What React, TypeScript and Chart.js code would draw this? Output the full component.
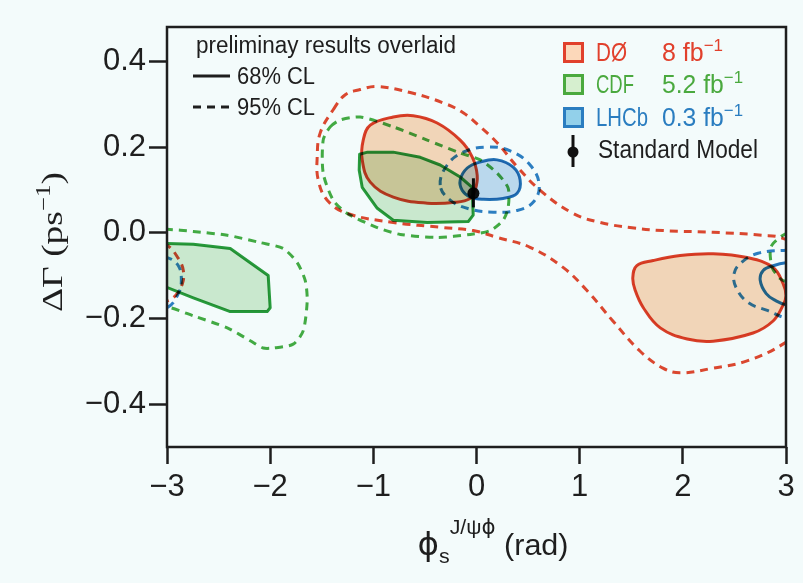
import React, { useEffect, useRef } from 'react';
import { Chart, registerables } from 'chart.js';

Chart.register(...registerables);

// ---------------- axes ----------------
const X_MIN = -3;
const X_MAX = 3;
const Y_MIN = -0.5;
const Y_MAX = 0.48;
const X_TICKS = [-3, -2, -1, 0, 1, 2, 3];
const X_TICK_LABELS = ['−3', '−2', '−1', '0', '1', '2', '3'];
const Y_TICKS = [-0.4, -0.2, 0, 0.2, 0.4];
const Y_TICK_LABELS = ['−0.4', '−0.2', '0.0', '0.2', '0.4'];

// ---------------- DØ 8 fb-1 ----------------
const D0_68_CENTRAL_X = [-1.098, -1.03, -0.807, -0.613, -0.381, -0.158, -0.042, 0.007, -0.013, -0.061, -0.206, -0.478, -0.807, -1.03, -1.108];
const D0_68_CENTRAL_Y = [0.216, 0.251, 0.27, 0.273, 0.256, 0.216, 0.177, 0.134, 0.099, 0.08, 0.071, 0.069, 0.083, 0.118, 0.17];
const D0_68_RIGHT_X = [1.515, 1.554, 1.713, 1.974, 2.294, 2.623, 2.875, 2.972, 3.0, 2.97, 2.875, 2.681, 2.294, 2.042, 1.781, 1.617, 1.539];
const D0_68_RIGHT_Y = [-0.105, -0.077, -0.065, -0.053, -0.049, -0.058, -0.081, -0.119, -0.147, -0.17, -0.206, -0.234, -0.253, -0.248, -0.222, -0.175, -0.135];
const D0_95_MAIN_X = [-1.389, -1.272, -1.127, -0.962, -0.642, -0.323, -0.129, 0.036, 0.2, 0.394, 0.617, 0.936, 1.197, 1.487, 1.807, 2.292, 2.776, 2.97, 3.15, 3.25, 3.15, 2.97, 2.622, 2.292, 1.972, 1.807, 1.584, 1.322, 1.071, 0.839, 0.519, 0.2, -0.032, -0.323, -0.807, -1.253, -1.447, -1.534, -1.544, -1.515];
const D0_95_MAIN_Y = [0.287, 0.322, 0.334, 0.341, 0.327, 0.303, 0.28, 0.247, 0.21, 0.154, 0.099, 0.045, 0.024, 0.012, 0.005, 0.001, -0.006, -0.013, -0.04, -0.13, -0.22, -0.26, -0.299, -0.316, -0.327, -0.316, -0.276, -0.206, -0.135, -0.081, -0.034, -0.011, 0.005, 0.012, 0.024, 0.045, 0.076, 0.123, 0.177, 0.233];
const D0_95_LEFT_X = [-3.15, -2.996, -2.89, -2.842, -2.851, -2.919, -2.997, -3.15];
const D0_95_LEFT_Y = [-0.02, -0.03, -0.06, -0.088, -0.119, -0.147, -0.159, -0.17];

// ---------------- CDF 5.2 fb-1 ----------------
const CDF_68_CENTRAL_X = [-1.133, -1.056, -0.807, -0.545, -0.352, -0.158, -0.042, -0.032, -0.08, -0.478, -0.807, -0.962, -1.108, -1.137];
const CDF_68_CENTRAL_Y = [0.183, 0.188, 0.188, 0.176, 0.158, 0.13, 0.106, 0.041, 0.026, 0.024, 0.029, 0.057, 0.106, 0.146];
const CDF_68_LEFT_X = [-3.15, -2.997, -2.745, -2.387, -2.193, -2.019, -2.0, -2.029, -2.387, -2.745, -2.997, -3.15];
const CDF_68_LEFT_Y = [-0.025, -0.025, -0.027, -0.037, -0.07, -0.1, -0.175, -0.184, -0.184, -0.152, -0.128, -0.12];
const CDF_95_CENTRAL_X = [-1.418, -1.321, -1.127, -0.807, -0.478, -0.158, 0.036, 0.2, 0.307, 0.307, 0.258, 0.133, -0.061, -0.381, -0.739, -0.962, -1.253, -1.389, -1.486, -1.486];
const CDF_95_CENTRAL_Y = [0.247, 0.263, 0.27, 0.247, 0.216, 0.186, 0.17, 0.139, 0.104, 0.059, 0.029, 0.005, -0.004, -0.011, -0.004, 0.012, 0.045, 0.076, 0.139, 0.216];
const CDF_95_LEFT_X = [-3.15, -2.997, -2.745, -2.416, -2.096, -1.873, -1.738, -1.66, -1.641, -1.68, -1.777, -1.97, -2.067, -2.193, -2.416, -2.745, -2.968, -3.15];
const CDF_95_LEFT_Y = [0.008, 0.008, 0.003, -0.006, -0.023, -0.037, -0.07, -0.112, -0.159, -0.229, -0.26, -0.269, -0.269, -0.252, -0.222, -0.194, -0.175, -0.17];
const CDF_95_RIGHT_X = [3.15, 3.0, 2.875, 2.846, 2.865, 2.942, 3.0, 3.15];
const CDF_95_RIGHT_Y = [0.0, -0.002, -0.025, -0.041, -0.081, -0.107, -0.114, -0.12];

// ---------------- LHCb 0.3 fb-1 ----------------
const LHCB_68_CENTRAL_X = [-0.158, -0.09, 0.036, 0.2, 0.356, 0.423, 0.394, 0.258, 0.065, -0.061, -0.139];
const LHCB_68_CENTRAL_Y = [0.123, 0.151, 0.165, 0.17, 0.153, 0.123, 0.092, 0.08, 0.078, 0.083, 0.099];
const LHCB_68_RIGHT_X = [3.15, 3.0, 2.876, 2.779, 2.75, 2.808, 2.904, 3.0, 3.15];
const LHCB_68_RIGHT_Y = [-0.07, -0.07, -0.077, -0.088, -0.111, -0.142, -0.159, -0.168, -0.17];
const LHCB_95_CENTRAL_X = [-0.352, -0.284, -0.129, 0.104, 0.327, 0.52, 0.608, 0.549, 0.394, 0.162, -0.061, -0.255];
const LHCB_95_CENTRAL_Y = [0.111, 0.158, 0.188, 0.2, 0.191, 0.158, 0.111, 0.071, 0.052, 0.048, 0.055, 0.076];
const LHCB_95_LEFT_X = [-3.15, -2.997, -2.89, -2.861, -2.89, -2.987, -3.15];
const LHCB_95_LEFT_Y = [-0.055, -0.058, -0.077, -0.112, -0.142, -0.173, -0.18];
const LHCB_95_RIGHT_X = [3.15, 3.0, 2.729, 2.565, 2.497, 2.516, 2.633, 2.826, 3.0, 3.15];
const LHCB_95_RIGHT_Y = [-0.04, -0.041, -0.048, -0.07, -0.095, -0.128, -0.163, -0.182, -0.199, -0.2];

// ---------------- Standard Model ----------------
const SM_PHI = -0.03;
const SM_DGAMMA = 0.092;
const SM_DGAMMA_LO = 0.059;
const SM_DGAMMA_HI = 0.127;

// ---------------- legend text ----------------
const EXPERIMENTS = ['DØ', 'CDF', 'LHCb'];
const LUMINOSITIES = ['8', '5.2', '0.3'];
const NOTE_TITLE = 'preliminay results overlaid';
const CL_LABELS = ['68% CL', '95% CL'];
const SM_LABEL = 'Standard Model';

// ---------------- styles ----------------
const BG = '#f3fbfb';
const INK = '#1e1e1e';
const SANS = '"Liberation Sans", Arial, Helvetica, sans-serif';
const PHI_FONT = '"DejaVu Sans", "Liberation Sans", sans-serif';
const SERIF = '"Liberation Serif", "Times New Roman", Times, serif';

const RED = '#e2412a';
const RED_DASH = '#e5482f';
const RED_FILL = '#fdd9bb';
const GREEN = '#2a9e3e';
const GREEN_DASH = '#45ad44';
const GREEN_FILL = '#d3ecd2';
const BLUE = '#2374b8';
const BLUE_DASH = '#2e80c4';
const BLUE_FILL = '#c3dcf1';

const EXP_TEXT_COLORS = ['#e1402c', '#4aa93e', '#2a7dc0'];
const EXP_BOX_FILLS = ['#fcd8ba', '#d6efcf', '#92d0ea'];
const EXP_BOX_BORDERS = ['#e1402c', '#4aa93e', '#2a7dc0'];

type Contour = { xs: number[]; ys: number[]; color: string; fill: string | null; dashed: boolean; tension: number };

const CONTOURS: Contour[] = [
  { xs: CDF_95_CENTRAL_X, ys: CDF_95_CENTRAL_Y, color: GREEN_DASH, fill: null, dashed: true, tension: 0.25 },
  { xs: CDF_95_LEFT_X, ys: CDF_95_LEFT_Y, color: GREEN_DASH, fill: null, dashed: true, tension: 0.25 },
  { xs: CDF_95_RIGHT_X, ys: CDF_95_RIGHT_Y, color: GREEN_DASH, fill: null, dashed: true, tension: 0.25 },
  { xs: D0_95_MAIN_X, ys: D0_95_MAIN_Y, color: RED_DASH, fill: null, dashed: true, tension: 0.4 },
  { xs: D0_95_LEFT_X, ys: D0_95_LEFT_Y, color: RED_DASH, fill: null, dashed: true, tension: 0.4 },
  { xs: LHCB_95_CENTRAL_X, ys: LHCB_95_CENTRAL_Y, color: BLUE_DASH, fill: null, dashed: true, tension: 0.4 },
  { xs: LHCB_95_LEFT_X, ys: LHCB_95_LEFT_Y, color: BLUE_DASH, fill: null, dashed: true, tension: 0.4 },
  { xs: LHCB_95_RIGHT_X, ys: LHCB_95_RIGHT_Y, color: BLUE_DASH, fill: null, dashed: true, tension: 0.4 },
  { xs: D0_68_CENTRAL_X, ys: D0_68_CENTRAL_Y, color: RED, fill: RED_FILL, dashed: false, tension: 0.4 },
  { xs: D0_68_RIGHT_X, ys: D0_68_RIGHT_Y, color: RED, fill: RED_FILL, dashed: false, tension: 0.4 },
  { xs: CDF_68_CENTRAL_X, ys: CDF_68_CENTRAL_Y, color: GREEN, fill: GREEN_FILL, dashed: false, tension: 0 },
  { xs: CDF_68_LEFT_X, ys: CDF_68_LEFT_Y, color: GREEN, fill: GREEN_FILL, dashed: false, tension: 0 },
  { xs: LHCB_68_CENTRAL_X, ys: LHCB_68_CENTRAL_Y, color: BLUE, fill: BLUE_FILL, dashed: false, tension: 0.4 },
  { xs: LHCB_68_RIGHT_X, ys: LHCB_68_RIGHT_Y, color: BLUE, fill: null, dashed: false, tension: 0.4 },
];

type Run = { t: string; font: string; dy?: number; color?: string };

function drawRuns(ctx: CanvasRenderingContext2D, runs: Run[], x: number, y: number, targetWidth?: number, color = INK) {
  let w = 0;
  for (const r of runs) {
    ctx.font = r.font;
    w += ctx.measureText(r.t).width;
  }
  const sx = targetWidth ? targetWidth / w : 1;
  ctx.save();
  ctx.translate(x, y);
  ctx.scale(sx, 1);
  ctx.textAlign = 'left';
  ctx.textBaseline = 'alphabetic';
  let cx = 0;
  for (const r of runs) {
    ctx.font = r.font;
    ctx.fillStyle = r.color || color;
    ctx.fillText(r.t, cx, r.dy || 0);
    cx += ctx.measureText(r.t).width;
  }
  ctx.restore();
}

const bgPlugin = {
  id: 'bg',
  beforeDraw(chart: any) {
    const ctx = chart.ctx;
    ctx.save();
    ctx.fillStyle = BG;
    ctx.fillRect(0, 0, chart.width, chart.height);
    ctx.restore();
  },
};

const loopPlugin = {
  id: 'closeLoops',
  afterDatasetsUpdate(chart: any) {
    chart.data.datasets.forEach((ds: any, i: number) => {
      if (!ds.closed) return;
      const line = chart.getDatasetMeta(i).dataset;
      if (!line) return;
      line._loop = true;
      line._fullLoop = true;
      line._pointsUpdated = false;
      delete line._segments;
      delete line._path;
    });
  },
};

const multiplyPlugin = {
  id: 'multiply',
  beforeDatasetsDraw(chart: any) {
    chart.ctx.save();
    chart.ctx.globalCompositeOperation = 'multiply';
  },
  afterDatasetsDraw(chart: any) {
    const ctx = chart.ctx;
    ctx.restore();
    const a = chart.chartArea;
    ctx.save();
    ctx.strokeStyle = INK;
    ctx.lineWidth = 2.5;
    ctx.strokeRect(a.left, a.top, a.right - a.left, a.bottom - a.top);
    ctx.restore();
  },
};

const annotationPlugin = {
  id: 'annotations',
  afterDraw(chart: any) {
    const ctx: CanvasRenderingContext2D = chart.ctx;
    const a = chart.chartArea;
    ctx.save();

    // y axis title (rotated)
    ctx.save();
    ctx.translate(62, (a.top + a.bottom) / 2 + 5);
    ctx.rotate(-Math.PI / 2);
    drawRuns(
      ctx,
      [
        { t: 'ΔΓ (ps', font: `30px ${SERIF}` },
        { t: '−1', font: `20px ${SERIF}`, dy: -12 },
        { t: ')', font: `30px ${SERIF}` },
      ],
      -70,
      0,
      140,
    );
    ctx.restore();

    // x axis title
    const cx = (a.left + a.right) / 2 + 16;
    drawRuns(
      ctx,
      [
        { t: 'ϕ', font: `32px ${PHI_FONT}` },
        { t: 's', font: `21px ${SANS}`, dy: 8 },
        { t: 'J/ψ', font: `21px ${SANS}`, dy: -21 },
        { t: 'ϕ', font: `21px ${PHI_FONT}`, dy: -21 },
        { t: ' (rad)', font: `30px ${SANS}` },
      ],
      cx - 75,
      555,
      151,
    );

    // top-left note
    drawRuns(ctx, [{ t: NOTE_TITLE, font: `23px ${SANS}` }], 196, 53, 260);
    ctx.strokeStyle = INK;
    ctx.lineWidth = 3;
    ctx.beginPath();
    ctx.moveTo(193, 76);
    ctx.lineTo(230, 76);
    ctx.stroke();
    ctx.setLineDash([8, 6]);
    ctx.beginPath();
    ctx.moveTo(193, 107);
    ctx.lineTo(230, 107);
    ctx.stroke();
    ctx.setLineDash([]);
    drawRuns(ctx, [{ t: CL_LABELS[0], font: `24px ${SANS}` }], 237, 84, 78);
    drawRuns(ctx, [{ t: CL_LABELS[1], font: `24px ${SANS}` }], 237, 115, 78);

    // right legend
    const rowsBase = [61, 93, 126];
    const nameW = [31, 38, 52];
    const lumiW = [61, 81, 81];
    EXPERIMENTS.forEach((name, i) => {
      const by = rowsBase[i] - 18;
      ctx.fillStyle = EXP_BOX_FILLS[i];
      ctx.fillRect(564.5, by + 0.5, 18, 18);
      ctx.strokeStyle = EXP_BOX_BORDERS[i];
      ctx.lineWidth = 3;
      ctx.strokeRect(564.5, by + 0.5, 18, 18);
      drawRuns(ctx, [{ t: name, font: `25px ${SANS}` }], 596, rowsBase[i], nameW[i], EXP_TEXT_COLORS[i]);
      drawRuns(
        ctx,
        [
          { t: `${LUMINOSITIES[i]} fb`, font: `25px ${SANS}` },
          { t: '−1', font: `17px ${SANS}`, dy: -10 },
        ],
        662,
        rowsBase[i],
        lumiW[i],
        EXP_TEXT_COLORS[i],
      );
    });
    // Standard Model marker
    ctx.strokeStyle = '#111';
    ctx.lineWidth = 3;
    ctx.beginPath();
    ctx.moveTo(573, 135);
    ctx.lineTo(573, 167);
    ctx.stroke();
    ctx.fillStyle = '#111';
    ctx.beginPath();
    ctx.arc(573, 152, 5.5, 0, Math.PI * 2);
    ctx.fill();
    drawRuns(ctx, [{ t: SM_LABEL, font: `25px ${SANS}` }], 598, 158, 160);

    ctx.restore();
  },
};

export default function App() {
  const ref = useRef<HTMLCanvasElement>(null);

  useEffect(() => {
    document.body.style.margin = '0';
    document.body.style.background = BG;
    const n = CONTOURS.length;
    const contourSets = CONTOURS.map((c, i) => ({
      type: 'line',
      data: c.xs.map((x, j) => ({ x, y: c.ys[j] })),
      borderColor: c.color,
      borderWidth: 3,
      borderDash: c.dashed ? [8, 6] : [],
      borderCapStyle: 'butt',
      borderJoinStyle: 'round',
      backgroundColor: c.fill || 'rgba(0,0,0,0)',
      fill: c.fill ? 'shape' : false,
      pointRadius: 0,
      pointHoverRadius: 0,
      tension: c.tension,
      capBezierPoints: false,
      closed: true,
      order: 10 + (n - i),
      clip: 0,
    }));
    const smSets = [
      {
        type: 'line',
        data: [
          { x: SM_PHI, y: SM_DGAMMA_LO },
          { x: SM_PHI, y: SM_DGAMMA_HI },
        ],
        borderColor: '#111',
        borderWidth: 3,
        pointRadius: 0,
        fill: false,
        order: 2,
      },
      {
        type: 'line',
        data: [{ x: SM_PHI, y: SM_DGAMMA }],
        showLine: false,
        pointRadius: 6,
        pointBackgroundColor: '#111',
        pointBorderWidth: 0,
        fill: false,
        order: 1,
      },
    ];

    const chart = new Chart(ref.current as HTMLCanvasElement, {
      type: 'line',
      data: { datasets: [...contourSets, ...smSets] as any },
      options: {
        responsive: false,
        animation: false,
        devicePixelRatio: 1,
        events: [],
        layout: { padding: { top: 27, right: 17, left: 0, bottom: 0 } },
        plugins: { legend: { display: false }, tooltip: { enabled: false } },
        scales: {
          x: {
            type: 'linear',
            min: X_MIN,
            max: X_MAX,
            afterBuildTicks: (s: any) => {
              s.ticks = X_TICKS.map((v) => ({ value: v }));
            },
            afterFit: (s: any) => {
              s.height = 136;
            },
            ticks: {
              autoSkip: false,
              maxRotation: 0,
              padding: 5,
              color: INK,
              font: { family: SANS, size: 31 },
              callback: (_v: any, i: number) => X_TICK_LABELS[i],
            },
            grid: { display: true, drawOnChartArea: false, drawTicks: true, tickLength: 17, tickColor: INK, tickWidth: 2.5 },
            border: { display: false },
          },
          y: {
            type: 'linear',
            min: Y_MIN,
            max: Y_MAX,
            afterBuildTicks: (s: any) => {
              s.ticks = Y_TICKS.map((v) => ({ value: v }));
            },
            afterFit: (s: any) => {
              s.width = 167;
            },
            ticks: {
              padding: 3,
              color: INK,
              font: { family: SANS, size: 31 },
              callback: (_v: any, i: number) => Y_TICK_LABELS[i],
            },
            grid: { display: true, drawOnChartArea: false, drawTicks: true, tickLength: 18, tickColor: INK, tickWidth: 2.5 },
            border: { display: false },
          },
        },
      } as any,
      plugins: [bgPlugin, loopPlugin, multiplyPlugin, annotationPlugin],
    });
    return () => chart.destroy();
  }, []);

  return (
    <div style={{ width: 803, height: 583, background: BG }}>
      <canvas ref={ref} width={803} height={583} style={{ display: 'block' }} />
    </div>
  );
}
